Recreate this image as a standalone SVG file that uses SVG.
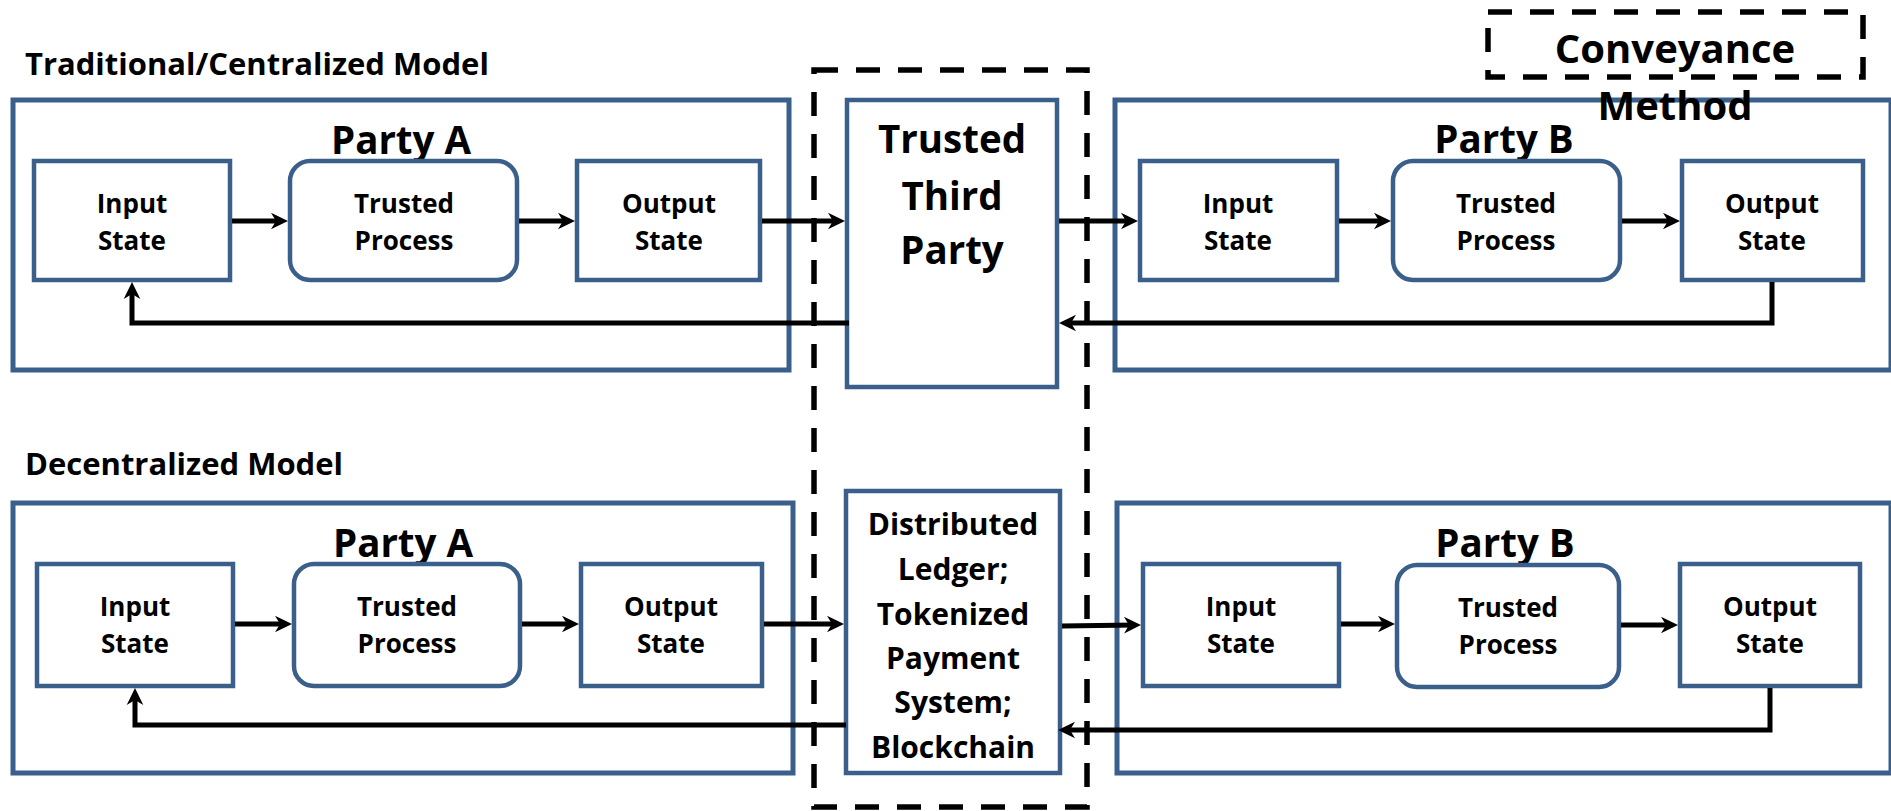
<svg xmlns="http://www.w3.org/2000/svg" width="1891" height="811" viewBox="0 0 1891 811">
<style>
.outer{fill:#fff;stroke:#3B5F8B;stroke-width:5}
.box{fill:#fff;stroke:#3B5F8B;stroke-width:4.5}
.dash{fill:none;stroke:#000;stroke-width:5.5;stroke-dasharray:24 18}
.t{font-family:"Open Sans","Liberation Sans",sans-serif;font-weight:700;fill:#000}
.s{font-size:26px;text-anchor:middle}
.p{font-size:38.5px;text-anchor:middle}
.h{font-size:31px}
.d{font-size:30px;text-anchor:middle}
.c{fill:none;stroke:#000;stroke-width:5;marker-end:url(#ah)}
.cn{fill:none;stroke:#000;stroke-width:5}
</style>
<defs>
<marker id="ah" markerUnits="userSpaceOnUse" markerWidth="20" markerHeight="20" viewBox="0 0 20 20" refX="13" refY="10" orient="auto">
<path d="M2,1.7 L19,10 L2,18.3 L7,10 z" fill="#000"/>
</marker>
</defs>
<rect width="1891" height="811" fill="#fff"/>

<text class="t h" x="25" y="75">Traditional/Centralized Model</text>
<text class="t h" x="25" y="475">Decentralized Model</text>

<g id="partyA-top">
<rect class="outer" x="13" y="100" width="776" height="270"/>
<text class="t p" x="401" y="154">Party A</text>
</g>
<g id="partyB-top">
<rect class="outer" x="1115" y="100" width="776" height="270"/>
<text class="t p" x="1504" y="153">Party B</text>
</g>
<g id="ttp">
<rect class="box" x="847" y="100" width="210" height="287"/>
<text class="t p" x="952" y="153">Trusted</text>
<text class="t p" x="952" y="210">Third</text>
<text class="t p" x="952" y="264">Party</text>
</g>
<g id="inputA-top"><rect class="box" x="34" y="161" width="196" height="119"/><text class="t s" x="132" y="213">Input</text><text class="t s" x="132" y="250">State</text></g>
<g id="processA-top"><rect class="box" x="290" y="161" width="227" height="119" rx="20"/><text class="t s" x="404" y="213">Trusted</text><text class="t s" x="404" y="250">Process</text></g>
<g id="outputA-top"><rect class="box" x="577" y="161" width="183" height="119"/><text class="t s" x="669" y="213">Output</text><text class="t s" x="669" y="250">State</text></g>
<g id="inputB-top"><rect class="box" x="1140" y="161" width="197" height="119"/><text class="t s" x="1238" y="213">Input</text><text class="t s" x="1238" y="250">State</text></g>
<g id="processB-top"><rect class="box" x="1393" y="161" width="227" height="119" rx="20"/><text class="t s" x="1506" y="213">Trusted</text><text class="t s" x="1506" y="250">Process</text></g>
<g id="outputB-top"><rect class="box" x="1682" y="161" width="181" height="119"/><text class="t s" x="1772" y="213">Output</text><text class="t s" x="1772" y="250">State</text></g>

<g id="partyA-bottom">
<rect class="outer" x="13" y="503" width="780" height="270"/>
<text class="t p" x="403" y="557">Party A</text>
</g>
<g id="partyB-bottom">
<rect class="outer" x="1117" y="503" width="774" height="270"/>
<text class="t p" x="1505" y="557">Party B</text>
</g>
<g id="ledger">
<rect class="box" x="846" y="491" width="214" height="282"/>
<text class="t d" x="953" y="535">Distributed</text>
<text class="t d" x="953" y="580">Ledger;</text>
<text class="t d" x="953" y="625">Tokenized</text>
<text class="t d" x="953" y="669">Payment</text>
<text class="t d" x="953" y="713">System;</text>
<text class="t d" x="953" y="758">Blockchain</text>
</g>
<g id="inputA-bottom"><rect class="box" x="37" y="564" width="196" height="122"/><text class="t s" x="135" y="616">Input</text><text class="t s" x="135" y="653">State</text></g>
<g id="processA-bottom"><rect class="box" x="294" y="564" width="226" height="122" rx="20"/><text class="t s" x="407" y="616">Trusted</text><text class="t s" x="407" y="653">Process</text></g>
<g id="outputA-bottom"><rect class="box" x="581" y="564" width="181" height="122"/><text class="t s" x="671" y="616">Output</text><text class="t s" x="671" y="653">State</text></g>
<g id="inputB-bottom"><rect class="box" x="1143" y="564" width="196" height="122"/><text class="t s" x="1241" y="616">Input</text><text class="t s" x="1241" y="653">State</text></g>
<g id="processB-bottom"><rect class="box" x="1397" y="565" width="222" height="122" rx="20"/><text class="t s" x="1508" y="617">Trusted</text><text class="t s" x="1508" y="654">Process</text></g>
<g id="outputB-bottom"><rect class="box" x="1680" y="564" width="180" height="122"/><text class="t s" x="1770" y="616">Output</text><text class="t s" x="1770" y="653">State</text></g>

<g id="conveyance-region">
<rect class="dash" x="814" y="70" width="273" height="737"/>
</g>

<g id="connectors">
<path class="c" d="M232,221 H282"/>
<path class="c" d="M519,221 H569"/>
<path class="c" d="M762,221 H839"/>
<path class="c" d="M1059,221 H1132"/>
<path class="c" d="M1339,221 H1385"/>
<path class="c" d="M1622,221 H1674"/>
<path class="c" d="M849,323 H132 V288"/>
<path class="c" d="M1772,282 V323 H1065"/>
<path class="c" d="M235,624 H286"/>
<path class="c" d="M522,624 H573"/>
<path class="c" d="M764,624 H838"/>
<path class="c" d="M1062,626 L1135,625"/>
<path class="c" d="M1341,624 H1389"/>
<path class="c" d="M1621,625 H1672"/>
<path class="c" d="M846,725 H135 V694"/>
<path class="c" d="M1770,688 V730 H1064"/>
</g>

<g id="legend">
<rect class="dash" x="1488" y="12" width="375" height="65"/>
<text class="t" style="font-size:40px;text-anchor:middle" x="1675" y="63">Conveyance</text>
<text class="t" style="font-size:40px;text-anchor:middle" x="1675" y="120">Method</text>
</g>
</svg>
